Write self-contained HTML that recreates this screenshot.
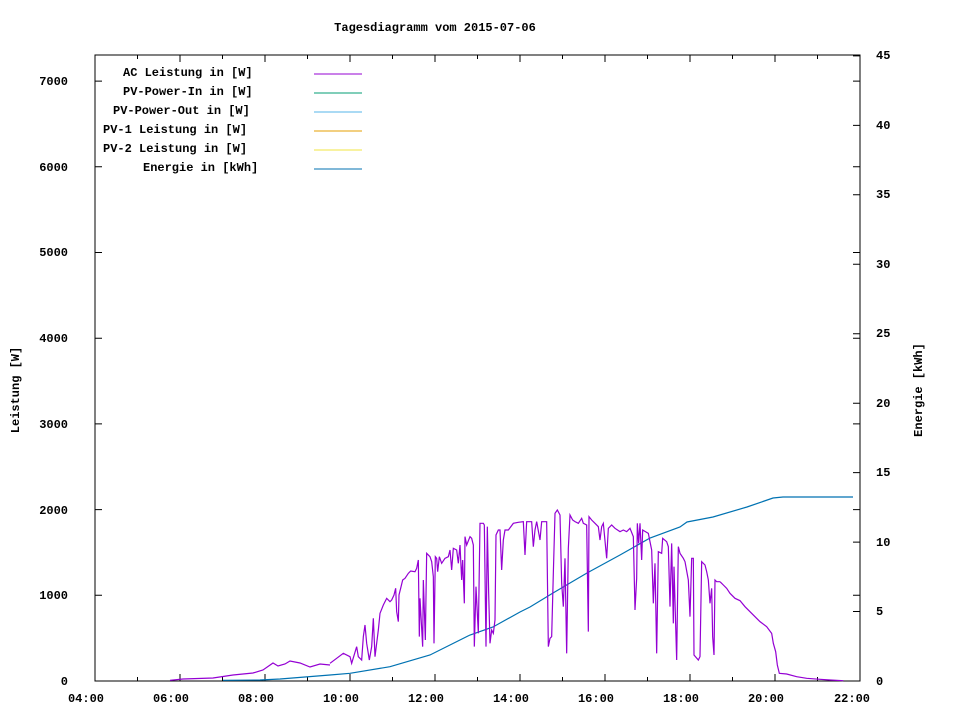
<!DOCTYPE html>
<html><head><meta charset="utf-8"><style>
html,body{margin:0;padding:0;background:#fff;}
svg{display:block;}
text{font-family:"Liberation Mono",monospace;font-weight:bold;font-size:12px;fill:#000;}
</style></head><body>
<svg width="960" height="720" viewBox="0 0 960 720" xmlns="http://www.w3.org/2000/svg">
<rect width="960" height="720" fill="#fff"/>
<text x="435" y="31" text-anchor="middle">Tagesdiagramm vom 2015-07-06</text>
<rect x="95" y="55" width="765" height="626" fill="none" stroke="#000" stroke-width="1"/>
<g stroke="#000" stroke-width="1">
<!-- left y ticks -->
<path d="M95 681h7M95 595.3h7M95 509.6h7M95 423.9h7M95 338.2h7M95 252.5h7M95 166.8h7M95 81.1h7"/>
<path d="M860 595.3h-7M860 509.6h-7M860 423.9h-7M860 338.2h-7M860 252.5h-7M860 166.8h-7M860 81.1h-7"/>
<!-- right y2 ticks -->
<path d="M860 611.5h-7M860 542.1h-7M860 472.6h-7M860 403.2h-7M860 333.7h-7M860 264.3h-7M860 194.8h-7M860 125.4h-7M860 55.9h-7"/>
<!-- x ticks -->
<path d="M180 681v-7M265 681v-7M350 681v-7M435 681v-7M520 681v-7M605 681v-7M690 681v-7M775 681v-7"/>
<path d="M137.5 681v-4M222.5 681v-4M307.5 681v-4M392.5 681v-4M477.5 681v-4M562.5 681v-4M647.5 681v-4M732.5 681v-4M817.5 681v-4"/>
<path d="M180 55v7M265 55v7M350 55v7M435 55v7M520 55v7M605 55v7M690 55v7M775 55v7"/>
<path d="M137.5 55v4M222.5 55v4M307.5 55v4M392.5 55v4M477.5 55v4M562.5 55v4M647.5 55v4M732.5 55v4M817.5 55v4"/>
</g>
<g text-anchor="end">
<text x="68" y="685">0</text><text x="68" y="599">1000</text><text x="68" y="514">2000</text>
<text x="68" y="428">3000</text><text x="68" y="342">4000</text><text x="68" y="256">5000</text>
<text x="68" y="171">6000</text><text x="68" y="85">7000</text>
</g>
<g text-anchor="start">
<text x="876" y="685">0</text><text x="876" y="615">5</text><text x="876" y="546">10</text>
<text x="876" y="476">15</text><text x="876" y="407">20</text><text x="876" y="337">25</text>
<text x="876" y="268">30</text><text x="876" y="198">35</text><text x="876" y="129">40</text>
<text x="876" y="59">45</text>
</g>
<g text-anchor="middle">
<text x="86" y="702">04:00</text><text x="171" y="702">06:00</text><text x="256" y="702">08:00</text>
<text x="341" y="702">10:00</text><text x="426" y="702">12:00</text><text x="511" y="702">14:00</text>
<text x="596" y="702">16:00</text><text x="681" y="702">18:00</text><text x="766" y="702">20:00</text>
<text x="852" y="702">22:00</text>
</g>
<text transform="translate(19 390) rotate(-90)" text-anchor="middle">Leistung [W]</text>
<text transform="translate(922 390) rotate(-90)" text-anchor="middle">Energie [kWh]</text>
<!-- legend -->
<g>
<text x="123" y="76">AC Leistung in [W]</text>
<text x="123" y="95">PV-Power-In in [W]</text>
<text x="113" y="114">PV-Power-Out in [W]</text>
<text x="103" y="133">PV-1 Leistung in [W]</text>
<text x="103" y="152">PV-2 Leistung in [W]</text>
<text x="143" y="171">Energie in [kWh]</text>
</g>
<path d="M314 74h48" stroke="#9400d3"/>
<path d="M314 93h48" stroke="#009e73"/>
<path d="M314 112h48" stroke="#56b4e9"/>
<path d="M314 131h48" stroke="#e69f00"/>
<path d="M314 150h48" stroke="#f0e442"/>
<path d="M314 169h48" stroke="#0072b2"/>
<!-- energy -->
<polyline fill="none" stroke="#0072b2" stroke-width="1.2" points="223,680.3 260,680 280,679 330,675 350,673.3 390,666.7 430,655 470,635 493,627 520,612 530,607 553,593 587,573 620,555 650,538 680,527 687,522 713,517 747,507 773,498 783,497 853,497"/>
<!-- AC power early -->
<polyline fill="none" stroke="#9400d3" stroke-width="1.2" points="170,680.3 183,679 213,678 233,675 253,673 263,670 273,663 278,666 285,664 290,661 300,663 310,667 320,664 330,665"/>
<g transform="translate(330 500) scale(0.33333)">
<polyline fill="none" stroke="#9400d3" stroke-width="3.6" points="0,490 40,460 60,470 65,490 80,440 85,470 95,480 100,410 105,375 110,430 118,480 125,440 130,355 135,470 145,390 150,340 160,315 170,295 180,305 185,300 192,285 197,265 200,335 205,365 207,285 212,265 218,240 225,235 235,220 242,213 255,215 260,205 265,180 268,410 270,295 275,385 278,440 280,240 283,330 286,420 290,160 300,170 305,185 310,230 312,430 316,170 320,175 323,215 328,170 335,190 345,175 355,170 360,150 365,210 370,145 380,150 385,190 390,135 395,240 398,180 403,310 405,110 410,135 420,110 425,115 430,135 433,440 438,260 445,400 450,70 460,70 463,75 468,440 472,80 476,280 480,430 485,390 490,400 495,360 498,105 505,90 510,90 515,210 520,120 525,90 535,90 550,70 565,67 580,65 585,165 590,65 600,65"/>
</g>
<g transform="translate(520 500) scale(0.33333)">
<polyline fill="none" stroke="#9400d3" stroke-width="3.6" points="30,65 35,65 40,140 45,90 50,65 60,120 65,65 80,65 85,440 90,415 95,410 100,220 105,40 112,30 120,45 125,250 130,320 135,175 140,460 145,145 150,45 158,60 165,65 175,70 185,55 190,70 200,75 205,395 207,50 215,60 225,70 235,80 240,120 245,80 250,70 260,175 265,85 275,75 285,85 300,95 310,90 320,95 330,85 340,110 345,330 350,235 352,70 356,130 360,70 365,180 368,90 385,100 395,150 400,310 405,190 410,460 415,155 425,160 428,115 440,125 445,140 450,320 455,130 460,370 462,200 470,480 475,140 480,160 490,175 495,185 505,240 510,350 515,175 520,175 522,465 535,480 540,470 545,185 555,195 560,215 565,240 570,310 575,265 578,410 582,465 585,240 590,245 600,245"/>
</g>
<g transform="translate(680 480) scale(0.33333)">
<polyline fill="none" stroke="#9400d3" stroke-width="3.6" points="120,305 130,315 140,325 150,340 165,355 180,362 195,380 210,395 225,410 240,425 260,440 275,460 280,490 287,515 292,555 298,580 320,582 350,590 380,595 420,598 450,600 490,602"/>
</g>
</svg>
</body></html>
